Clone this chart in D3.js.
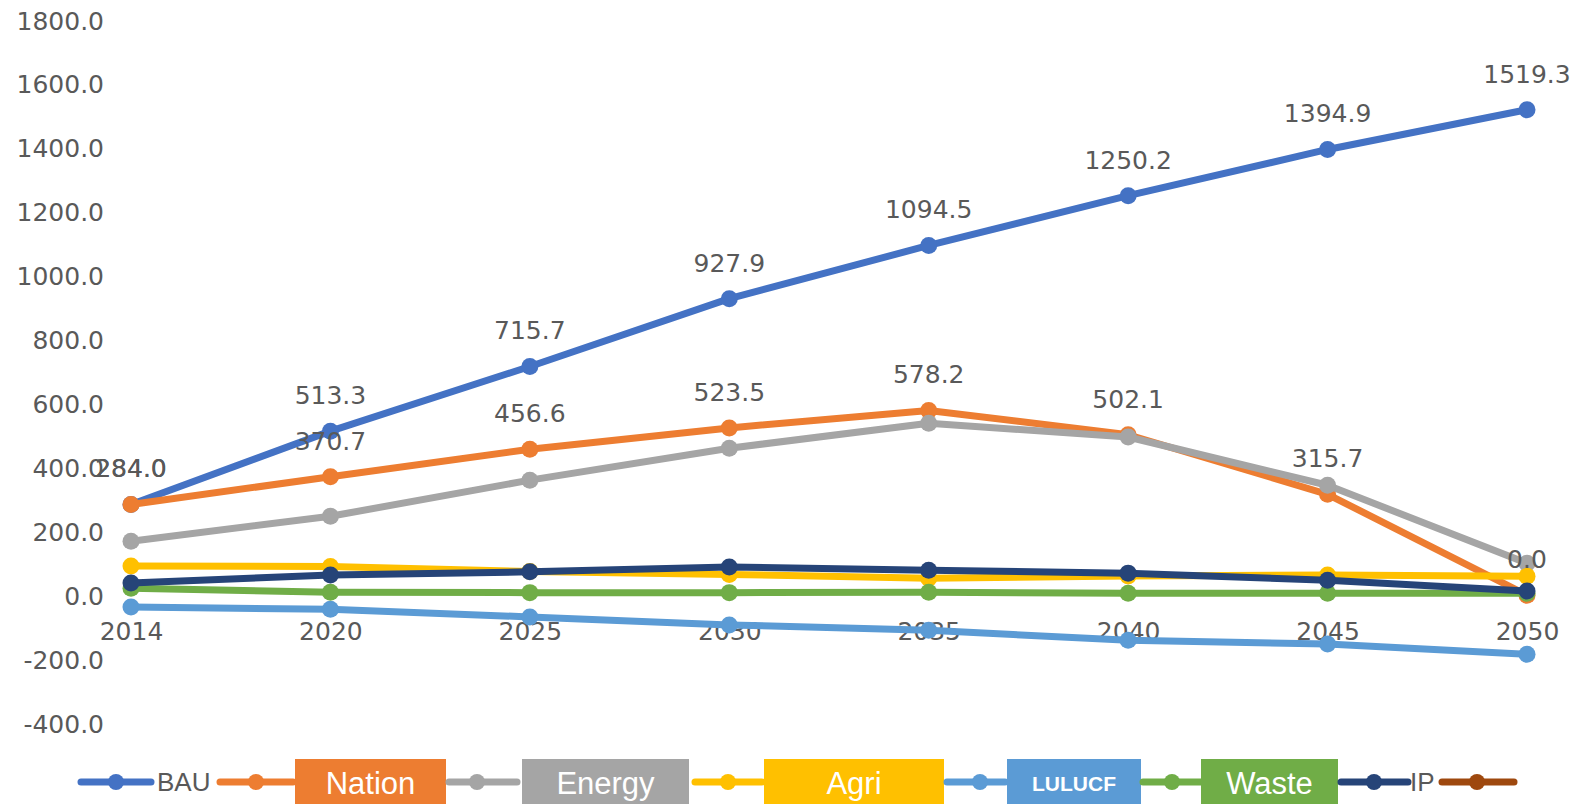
<!DOCTYPE html>
<html>
<head>
<meta charset="utf-8">
<script src="https://cdn.jsdelivr.net/npm/d3@7"></script>
<style>
  html, body { margin: 0; padding: 0; background: #ffffff; }
  svg { display: block; }
</style>
</head>
<body>
<svg id="chart" width="1583" height="804"></svg>
<script>
// Emission pathways by sector, 2014-2050
const years = ["2014", "2020", "2025", "2030", "2035", "2040", "2045", "2050"];
const yTicks = [-400, -200, 0, 200, 400, 600, 800, 1000, 1200, 1400, 1600, 1800];

const bau    = [284.0, 513.3, 715.7, 927.9, 1094.5, 1250.2, 1394.9, 1519.3];
const nation = [284.0, 370.7, 456.6, 523.5, 578.2, 502.1, 315.7, 0.0];
const energy = [169, 247, 360, 460, 538, 495, 344, 100];
const agri   = [91, 90, 74, 65, 53, 60, 63, 59];
const lulucf = [-37, -44, -68, -93, -110, -141, -153, -185];
const waste  = [22, 9, 8, 8, 9, 6, 6, 6];
const ip     = [38, 63, 73, 88, 78, 69, 47, 13];

const seriesNames = ["BAU", "Nation", "Energy", "Agri", "LULUCF", "Waste", "IP", ""];
const seriesValues = [bau, nation, energy, agri, lulucf, waste, ip, []];
const labelledSeries = ["BAU", "Nation"];

const colors = {
  "BAU": "#4472C4", "Nation": "#ED7D31", "Energy": "#A5A5A5", "Agri": "#FFC000",
  "LULUCF": "#5B9BD5", "Waste": "#70AD47", "IP": "#264478", "": "#9E480E"
};

const svg = d3.select("#chart");
const textColor = "#595959";
const numFont = "'DejaVu Sans', sans-serif";
const fmt = v => d3.format(".1f")(v).replace("\u2212", "-");

const x = d3.scalePoint().domain(years).range([131, 1527]);
const y = d3.scaleLinear().domain([-400, 1800]).range([723, 20]);

// value axis: labels only
const yAxis = d3.axisLeft(y).tickValues(yTicks).tickSize(0).tickPadding(0).tickFormat(fmt);
svg.append("g").attr("transform", "translate(104,0)").call(yAxis)
  .call(g => g.select(".domain").remove())
  .call(g => g.selectAll("text")
    .attr("fill", textColor).attr("font-family", numFont).attr("font-size", 25)
    .attr("dy", "0.36em"));

// category axis labels sit below the zero line
const xAxis = d3.axisBottom(x).tickSize(0).tickPadding(0);
svg.append("g").attr("transform", `translate(0,${y(0) + 36})`).call(xAxis)
  .call(g => g.select(".domain").remove())
  .call(g => g.selectAll("text")
    .attr("fill", textColor).attr("font-family", numFont).attr("font-size", 25)
    .attr("dy", "0.36em"));

const series = seriesNames.map((name, i) => ({
  name,
  points: seriesValues[i].map((v, j) => ({ year: years[j], value: v }))
})).filter(s => s.points.length);

const line = d3.line().x(d => x(d.year)).y(d => y(d.value));

const gSeries = svg.append("g").selectAll("g").data(series).join("g");
gSeries.append("path")
  .attr("d", s => line(s.points))
  .attr("fill", "none")
  .attr("stroke", s => colors[s.name])
  .attr("stroke-width", 7)
  .attr("stroke-linejoin", "round")
  .attr("stroke-linecap", "round");
gSeries.selectAll("circle").data(s => s.points.map(p => ({ ...p, name: s.name }))).join("circle")
  .attr("cx", d => x(d.year))
  .attr("cy", d => y(d.value))
  .attr("r", 8.5)
  .attr("fill", d => colors[d.name]);

// value labels above the BAU and Nation points
const labels = svg.append("g");
series.filter(s => labelledSeries.includes(s.name)).forEach(s => {
  labels.selectAll(null).data(s.points).join("text")
    .attr("x", d => x(d.year))
    .attr("y", d => y(d.value) - 36)
    .attr("dy", "0.36em")
    .attr("text-anchor", "middle")
    .attr("fill", textColor)
    .attr("font-family", numFont)
    .attr("font-size", 25)
    .text(d => fmt(d.value));
});

// legend row
const legendY = 782;
const legendLayout = [
  { line: [81, 151], marker: 116, label: { type: "text", x: 157 } },
  { line: [220, 293], marker: 256, label: { type: "box", x0: 295, x1: 446 } },
  { line: [449, 517], marker: 477, label: { type: "box", x0: 522, x1: 689 } },
  { line: [695, 762], marker: 728, label: { type: "box", x0: 764, x1: 944 } },
  { line: [947, 1005], marker: 980, label: { type: "box", x0: 1007, x1: 1141, small: true } },
  { line: [1143, 1201], marker: 1172, label: { type: "box", x0: 1201, x1: 1338 } },
  { line: [1341, 1408], marker: 1374, label: { type: "text", x: 1410 } },
  { line: [1442, 1514], marker: 1477, label: null }
];

const legend = svg.append("g");
seriesNames.forEach((name, i) => {
  const L = legendLayout[i];
  const c = colors[name];
  legend.append("line")
    .attr("x1", L.line[0]).attr("x2", L.line[1])
    .attr("y1", legendY).attr("y2", legendY)
    .attr("stroke", c).attr("stroke-width", 7).attr("stroke-linecap", "round");
  legend.append("circle").attr("cx", L.marker).attr("cy", legendY).attr("r", 8).attr("fill", c);
  if (!L.label) return;
  if (L.label.type === "text") {
    legend.append("text")
      .attr("x", L.label.x).attr("y", legendY).attr("dy", "0.36em")
      .attr("fill", textColor)
      .attr("font-family", "'Liberation Sans', Arial, sans-serif")
      .attr("font-size", 26)
      .text(name);
  } else {
    legend.append("rect")
      .attr("x", L.label.x0).attr("y", 759)
      .attr("width", L.label.x1 - L.label.x0).attr("height", 46)
      .attr("fill", c);
    legend.append("text")
      .attr("x", (L.label.x0 + L.label.x1) / 2).attr("y", legendY + 1).attr("dy", "0.36em")
      .attr("text-anchor", "middle")
      .attr("fill", "#ffffff")
      .attr("font-family", "'Liberation Sans', Arial, sans-serif")
      .attr("font-weight", L.label.small ? "bold" : "normal")
      .attr("font-size", L.label.small ? 21 : 31)
      .text(name);
  }
});
</script>
</body>
</html>
